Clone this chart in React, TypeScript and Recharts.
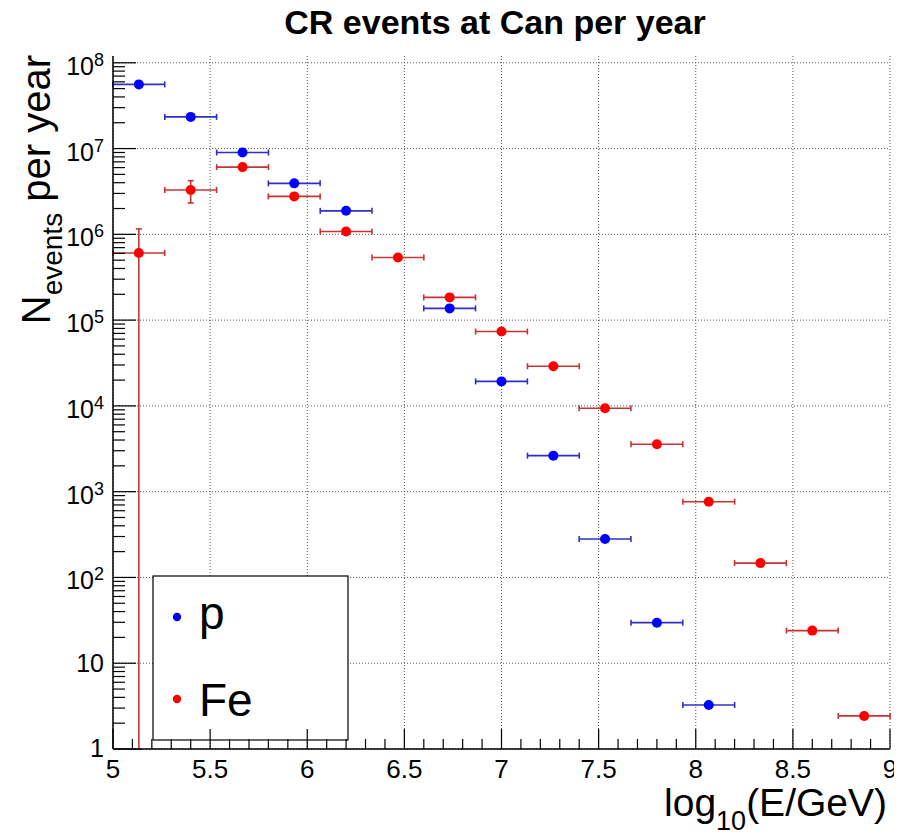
import React from 'react';
import { ScatterChart, Scatter, XAxis, YAxis, CartesianGrid, ErrorBar, Customized } from 'recharts';

// ---- data ----
const binCenters = [5.133, 5.4, 5.667, 5.933, 6.2, 6.467, 6.733, 7.0, 7.267, 7.533, 7.8, 8.067, 8.333, 8.6, 8.867];
const binHalfWidth = 0.1333;

const pEvents: (number | null)[] = [5.6e7, 2.34e7, 9.0e6, 3.93e6, 1.88e6, null, 1.37e5, 1.93e4, 2.63e3, 281, 29.7, 3.26, null, null, null];
const pErrUp: number[] = [0, 0, 0, 0, 0, 0, 0, 0, 0, 0, 0, 0, 0, 0, 0];
const pErrDown: number[] = [0, 0, 0, 0, 0, 0, 0, 0, 0, 0, 0, 0, 0, 0, 0];

const feEvents: (number | null)[] = [6.07e5, 3.29e6, 6.08e6, 2.77e6, 1.08e6, 5.37e5, 1.84e5, 7.36e4, 2.9e4, 9.4e3, 3.57e3, 764, 147, 24, 2.43];
const feErrUp: number[] = [5.5e5, 9.3e5, 0, 0, 0, 0, 0, 0, 0, 0, 0, 0, 0, 0, 0];
const feErrDown: number[] = [6.07e5, 9.7e5, 0, 0, 0, 0, 0, 0, 0, 0, 0, 0, 0, 0, 0];

const seriesNames = ['p', 'Fe'];
const markerColors = ['#0000ff', '#ff0000'];
const barColors = ['#2f2fc8', '#c83434'];

const xMajorTicks = [5, 5.5, 6, 6.5, 7, 7.5, 8, 8.5, 9];
const xTickLabels = ['5', '5.5', '6', '6.5', '7', '7.5', '8', '8.5', '9'];
const xMinorStep = 0.1;
const yMajorTicks = [1, 10, 1e2, 1e3, 1e4, 1e5, 1e6, 1e7, 1e8];
const yTickExponents = [0, 1, 2, 3, 4, 5, 6, 7, 8];
const yMinorMultipliers = [2, 3, 4, 5, 6, 7, 8, 9];

const titleText = 'CR events at Can per year';

// ---- derived tables ----
const Y_MIN = 1;
const Y_MAX = 1.2e8;

function buildSeries(vals: (number | null)[], up: number[], down: number[]) {
  const out: { x: number; y: number; ex: number; ey: [number, number] }[] = [];
  vals.forEach((v, i) => {
    if (v == null) return;
    const lo = Math.min(down[i], v - Y_MIN);
    out.push({ x: binCenters[i], y: v, ex: binHalfWidth, ey: [lo, up[i]] });
  });
  return out;
}
const pData = buildSeries(pEvents, pErrUp, pErrDown);
const feData = buildSeries(feEvents, feErrUp, feErrDown);

const xAllTicks: number[] = [];
for (let i = 0; i <= Math.round((9 - 5) / xMinorStep); i++) {
  xAllTicks.push(Math.round((5 + i * xMinorStep) * 10) / 10);
}
const yAllTicks: number[] = [];
yMajorTicks.forEach((d, i) => {
  yAllTicks.push(d);
  if (i < yMajorTicks.length - 1) yMinorMultipliers.forEach((m) => yAllTicks.push(m * d));
});

const FONT = '"Liberation Sans", Arial, Helvetica, sans-serif';

const XTick = (props: any) => {
  const { x, y, payload } = props;
  const v = payload.value as number;
  const idx = xMajorTicks.findIndex((t) => Math.abs(t - v) < 1e-6);
  const major = idx >= 0;
  return (
    <g>
      <line x1={x} y1={y} x2={x} y2={y - (major ? 20 : 10)} stroke="#000" strokeWidth={1.2} />
      {major && (
        <text x={x} y={y + 29} textAnchor="middle" fontSize={26} fontFamily={FONT} fill="#000">
          {xTickLabels[idx]}
        </text>
      )}
    </g>
  );
};

const YTick = (props: any) => {
  const { x, y, payload } = props;
  const v = payload.value as number;
  const idx = yMajorTicks.findIndex((t) => Math.abs(t - v) < 1e-6 * t);
  const major = idx >= 0;
  const e = major ? yTickExponents[idx] : 0;
  return (
    <g>
      <line x1={x} y1={y} x2={x + (major ? 23 : 12)} y2={y} stroke="#000" strokeWidth={1.2} />
      {major && e === 0 && (
        <text x={x - 9} y={y + 8} textAnchor="end" fontSize={25} fontFamily={FONT} fill="#000">1</text>
      )}
      {major && e === 1 && (
        <text x={x - 9} y={y + 9} textAnchor="end" fontSize={25} fontFamily={FONT} fill="#000">10</text>
      )}
      {major && e >= 2 && (
        <text x={x - 9} y={y + 12} textAnchor="end" fontFamily={FONT} fill="#000">
          <tspan fontSize={25}>10</tspan>
          <tspan fontSize={18} dy={-9}>{String(e)}</tspan>
        </text>
      )}
    </g>
  );
};

const makeShape = (color: string) => (props: any) => (
  <circle cx={props.cx} cy={props.cy} r={5} fill={color} />
);

const Overlay = () => (
  <g fontFamily={FONT}>
    <text x={487} y={26} textAnchor="middle" fontSize={34} fontWeight="bold" fill="#000">
      {titleText}
    </text>
    <text transform="translate(42,47) rotate(-90)" textAnchor="end" fontSize={40} fill="#000">
      <tspan>N</tspan>
      <tspan fontSize={28} dy={12}>events</tspan>
      <tspan dy={-12}> per year</tspan>
    </text>
    <text x={879} y={808} textAnchor="end" fontSize={39} fill="#000">
      <tspan>log</tspan>
      <tspan fontSize={27} dy={14}>10</tspan>
      <tspan dy={-14}>(E/GeV)</tspan>
    </text>
    <rect x={145} y={568} width={195} height={164} fill="#fff" stroke="#000" strokeWidth={1.2} />
    <circle cx={169} cy={609} r={4.2} fill={markerColors[0]} />
    <text x={191} y={621} fontSize={46} fill="#000">{seriesNames[0]}</text>
    <circle cx={169} cy={691} r={4.2} fill={markerColors[1]} />
    <text x={191} y={708} fontSize={46} fill="#000">{seriesNames[1]}</text>
  </g>
);

export default function App() {
  return (
    <div style={{ width: 894, height: 828 }}>
      <style>{'html,body{overflow:hidden}'}</style>
      <ScatterChart width={894} height={828} margin={{ top: 48, right: 12, bottom: 0, left: 0 }}>
        <CartesianGrid
          horizontalValues={yMajorTicks}
          verticalValues={xMajorTicks}
          stroke="#555"
          strokeDasharray="1 2"
          strokeWidth={1}
        />
        <XAxis
          dataKey="x"
          type="number"
          domain={[5, 9]}
          allowDataOverflow
          ticks={xAllTicks}
          interval={0}
          height={87}
          tickSize={0}
          tickMargin={0}
          tickLine={false}
          tick={<XTick />}
          axisLine={{ stroke: '#000', strokeWidth: 1.5 }}
        />
        <XAxis
          xAxisId="top"
          orientation="top"
          type="number"
          domain={[5, 9]}
          height={0}
          tick={false}
          tickLine={false}
          axisLine={{ stroke: '#000', strokeWidth: 1.5 }}
        />
        <YAxis
          dataKey="y"
          type="number"
          scale="log"
          domain={[Y_MIN, Y_MAX]}
          allowDataOverflow
          ticks={yAllTicks}
          interval={0}
          width={105}
          tickSize={0}
          tickMargin={0}
          tickLine={false}
          tick={<YTick />}
          axisLine={{ stroke: '#000', strokeWidth: 1.5 }}
        />
        <YAxis
          yAxisId="right"
          orientation="right"
          type="number"
          domain={[0, 1]}
          width={0}
          tick={false}
          tickLine={false}
          axisLine={{ stroke: '#000', strokeWidth: 1.5 }}
        />
        <Scatter name={seriesNames[0]} data={pData} isAnimationActive={false} shape={makeShape(markerColors[0])}>
          <ErrorBar dataKey="ex" direction="x" width={3} stroke={barColors[0]} strokeWidth={1.6} isAnimationActive={false} />
          <ErrorBar dataKey="ey" direction="y" width={3} stroke={barColors[0]} strokeWidth={1.6} isAnimationActive={false} />
        </Scatter>
        <Scatter name={seriesNames[1]} data={feData} isAnimationActive={false} shape={makeShape(markerColors[1])}>
          <ErrorBar dataKey="ex" direction="x" width={3} stroke={barColors[1]} strokeWidth={1.6} isAnimationActive={false} />
          <ErrorBar dataKey="ey" direction="y" width={3} stroke={barColors[1]} strokeWidth={1.6} isAnimationActive={false} />
        </Scatter>
        <Customized component={Overlay} />
      </ScatterChart>
    </div>
  );
}
